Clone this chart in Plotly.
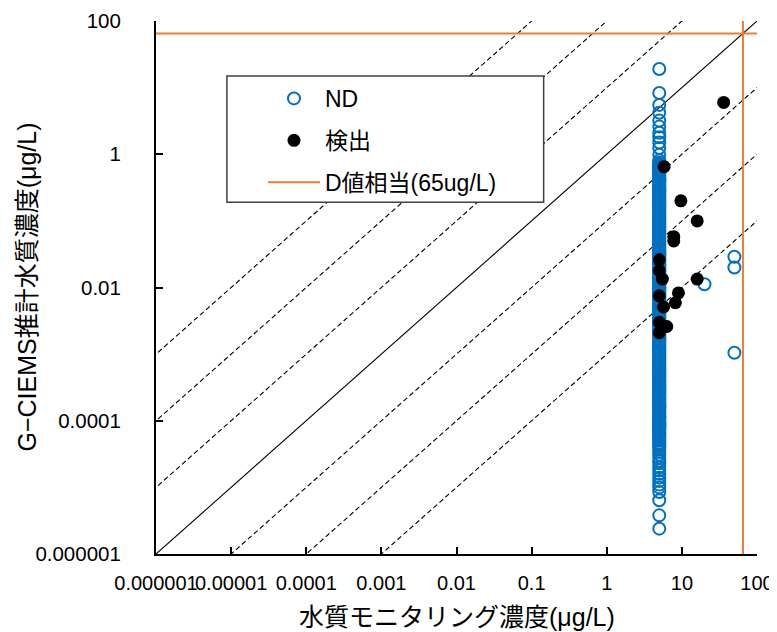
import plotly.graph_objects as go

# ---------------- data ----------------
# ND (not detected) samples plotted at monitoring value 5 ug/L
nd_col_y = [
    19, 8.3, 5.5, 4.2, 3.2, 2.6, 2.1, 1.8, 1.5, 1.24, 0.98, 0.81,
    0.75, 0.72, 0.695, 0.67, 0.645, 0.62, 0.6, 0.575, 0.555, 0.535, 0.515, 0.495, 0.475, 0.46,
    0.44, 0.425, 0.41, 0.395, 0.38, 0.365, 0.35, 0.34, 0.325, 0.315, 0.3, 0.29, 0.28, 0.27,
    0.26, 0.25, 0.24, 0.232, 0.223, 0.215, 0.207, 0.2, 0.192, 0.185, 0.178, 0.171, 0.165,
    0.159, 0.153, 0.147, 0.142, 0.137, 0.132, 0.127, 0.122, 0.117, 0.113, 0.109, 0.105, 0.101,
    0.097, 0.094, 0.09, 0.087, 0.084, 0.081, 0.078, 0.075, 0.072, 0.069, 0.067, 0.064, 0.062,
    0.06, 0.058, 0.056, 0.054, 0.052, 0.05, 0.048, 0.046, 0.044, 0.043, 0.041, 0.04, 0.038,
    0.037, 0.0355, 0.034, 0.033, 0.0315, 0.0305, 0.0293, 0.0282, 0.0272, 0.0262, 0.0252,
    0.0243, 0.0234, 0.0225, 0.0217, 0.0209, 0.0201, 0.0194, 0.0187, 0.018, 0.0173, 0.0167,
    0.016, 0.0154, 0.0148, 0.0143, 0.0138, 0.0133, 0.0128, 0.0123, 0.0118, 0.0114, 0.011,
    0.0106, 0.0102,
    0.0098, 0.0094, 0.0091, 0.0087, 0.0084, 0.0081, 0.0078, 0.0075, 0.0072, 0.0069, 0.0066,
    0.0064, 0.0061, 0.0059, 0.0057, 0.0055, 0.0053, 0.0051, 0.0049, 0.0047, 0.0045, 0.0044,
    0.0042, 0.004, 0.0039, 0.0037, 0.0036, 0.0035, 0.0033, 0.0032, 0.0031, 0.003, 0.0029,
    0.0028, 0.0027, 0.0026, 0.0025, 0.0024, 0.0023, 0.0022, 0.00213, 0.00205, 0.00197,
    0.0019, 0.00182, 0.00175, 0.00168, 0.00162, 0.00156, 0.0015, 0.00144, 0.00138, 0.00133,
    0.00128, 0.00123, 0.00118, 0.00114, 0.0011, 0.00106, 0.00102,
    0.00099, 0.00095, 0.00091, 0.00088, 0.00085, 0.00082, 0.00079, 0.00076, 0.00073, 0.0007,
    0.00067, 0.00065, 0.00062, 0.0006, 0.00058, 0.00056, 0.00054, 0.00052, 0.0005, 0.00048,
    0.00046, 0.00045, 0.00043, 0.00041, 0.0004, 0.00038, 0.00037, 0.00036, 0.00034, 0.00033,
    0.00032, 0.00031, 0.0003, 0.00029, 0.00028, 0.00027, 0.00026, 0.00025, 0.00024, 0.00023,
    0.00022, 0.00021, 0.000202, 0.000195, 0.000187, 0.00018, 0.000173, 0.000166, 0.00016,
    0.000154, 0.000148, 0.000142, 0.000137, 0.000132, 0.000127, 0.000122, 0.000117,
    0.000113, 0.000109, 0.000105, 0.000101,
    0.000097, 0.000093, 0.00009, 0.000086, 0.000083, 0.00008, 0.000077, 0.000074, 0.000071,
    0.000068, 0.000066, 0.000063, 0.000061, 0.000058, 0.000056, 0.000054, 0.000052, 0.00005,
    0.000046, 0.000043, 0.00004, 0.000037, 0.000034, 0.000031, 0.000028, 0.000025, 0.000023,
    0.00002, 0.000018, 0.000016, 0.000014, 0.0000125, 0.000011, 0.00001, 0.0000085,
    0.0000064, 0.0000038, 0.0000024,
]
nd_col_x = [5] * len(nd_col_y)
nd_out_x = [20, 50, 50, 50]
nd_out_y = [0.0112, 0.029, 0.020, 0.00105]

# detected samples
det_x = [36, 5.8, 9.7, 16, 7.8, 7.8, 5.0, 5.0, 5.5, 16, 5.0, 5.7, 9.0, 8.2, 5.0, 6.3, 5.0]
det_y = [6.0, 0.65, 0.20, 0.10, 0.058, 0.05, 0.026, 0.018, 0.0134, 0.0134, 0.0075, 0.0051,
         0.0083, 0.0059, 0.003, 0.0026, 0.0021]

# reference ratio lines y = r * x
ratios = [1e-3, 1e-2, 1e-1, 1, 10, 100, 1000]
d_value = 65  # D値相当 (ug/L)

x_ticks = [1e-6, 1e-5, 1e-4, 1e-3, 1e-2, 1e-1, 1, 10, 100]
x_tick_labels = ["0.000001", "0.00001", "0.0001", "0.001", "0.01", "0.1", "1", "10", "100"]
y_ticks = [1e-6, 1e-4, 1e-2, 1, 100]
y_tick_labels = ["0.000001", "0.0001", "0.01", "1", "100"]
axis_min, axis_max = 1e-6, 100
x_title = "水質モニタリング濃度(μg/L)"
y_title = "G−CIEMS推計水質濃度(μg/L)"

FONT = "Liberation Sans, Noto Sans CJK JP, sans-serif"
BLUE = "#0070C0"
ORANGE = "#ED7D31"

fig = go.Figure()

line_lo, line_hi = 1e-9, 1e5
for r in ratios:
    fig.add_trace(go.Scatter(
        x=[line_lo, line_hi], y=[r * line_lo, r * line_hi], mode="lines",
        line=dict(color="black", width=1.1, dash="solid" if r == 1 else "5px,3px"),
        showlegend=False, hoverinfo="skip"))

nd_marker = dict(symbol="circle-open", size=12, color=BLUE, line=dict(width=2, color=BLUE))
fig.add_trace(go.Scatter(x=nd_col_x + nd_out_x, y=nd_col_y + nd_out_y, mode="markers",
                         name="ND", marker=nd_marker, legendgroup="a"))
fig.add_trace(go.Scatter(
    x=det_x, y=det_y, mode="markers", name="検出",
    marker=dict(symbol="circle", size=13, color="black"),
    legendgroup="b"))
fig.add_trace(go.Scatter(
    x=[axis_min, axis_max], y=[d_value, d_value], mode="lines", name="D値相当(65ug/L)",
    line=dict(color=ORANGE, width=2), legendgroup="c"))
fig.add_trace(go.Scatter(
    x=[d_value, d_value], y=[axis_min, axis_max], mode="lines",
    line=dict(color=ORANGE, width=2), showlegend=False, legendgroup="c"))

axis_common = dict(
    type="log", range=[-6, 2], showgrid=False, zeroline=False, automargin=False,
    showline=True, linecolor="black", linewidth=2,
    ticks="inside", ticklen=7, tickwidth=1.5, tickcolor="black",
)

fig.update_layout(
    width=777, height=632,
    margin=dict(l=148, r=28, t=13, b=86, autoexpand=False),
    paper_bgcolor="white", plot_bgcolor="white",
    font=dict(family=FONT, color="black"),
    xaxis=dict(**axis_common, tickvals=x_ticks, ticktext=x_tick_labels, tickangle=0,
               ticklabelstandoff=10, tickfont=dict(family=FONT, size=20, color="black")),
    yaxis=dict(**axis_common, tickvals=y_ticks, ticktext=y_tick_labels,
               ticklabelstandoff=29, tickfont=dict(family=FONT, size=20.5, color="black")),
    annotations=[
        dict(text=x_title, xref="paper", yref="paper", x=0.5, y=0, xanchor="center",
             yanchor="middle", yshift=-63, showarrow=False,
             font=dict(family=FONT, size=25, color="black")),
        dict(text=y_title, xref="paper", yref="paper", x=0, y=0.5, xanchor="center",
             yanchor="middle", xshift=-130, textangle=-90, showarrow=False,
             font=dict(family=FONT, size=25, color="black")),
    ],
    legend=dict(x=0.178, y=0.895, xanchor="left", yanchor="top",
                bgcolor="rgba(0,0,0,0)", borderwidth=0, itemwidth=52,
                font=dict(family=FONT, size=23, color="black"),
                traceorder="grouped", tracegroupgap=9),
    shapes=[dict(type="rect", xref="paper", yref="paper",
                 x0=0.118, x1=0.645, y0=0.660, y1=0.897,
                 line=dict(color="#404040", width=1.5), fillcolor="white", layer="above")],
    showlegend=True,
)

fig.write_html("out.html")
